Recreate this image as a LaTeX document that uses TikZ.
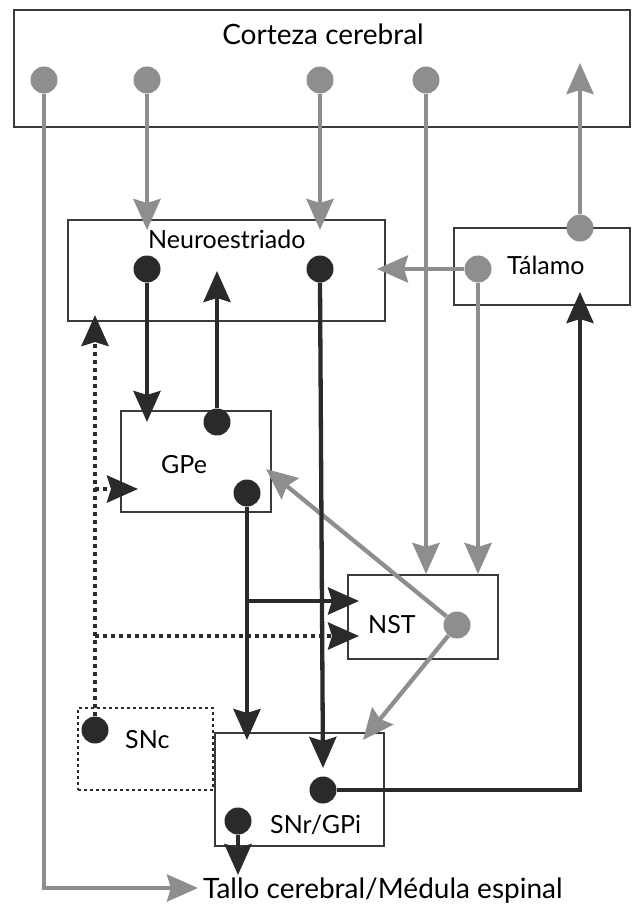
\documentclass[tikz,border=0pt]{standalone}
\usepackage{fontspec}
\setmainfont{Lato}
\usetikzlibrary{arrows.meta}
\definecolor{ash}{HTML}{8E8E8E}
\definecolor{ink}{HTML}{2A2A2A}
\definecolor{frame}{HTML}{3A3A3A}
\tikzset{fig/.style={x=1pt,y=-1pt,line join=miter,>={Stealth[length=31pt,width=27pt,inset=4pt]},font=\fontsize{25}{29}\selectfont},
  area/.style={draw=frame,line width=2pt,inner sep=0pt},
  big/.style={font=\fontsize{28}{32}\selectfont},
  gdot/.style={circle,fill=ash,minimum size=27pt,inner sep=0pt},
  kdot/.style={circle,fill=ink,minimum size=27pt,inner sep=0pt},
  gpath/.style={ash,line width=4.3pt,->},
  kpath/.style={ink,line width=4.3pt,->},
  dpath/.style={ink,line width=4.3pt,dash pattern=on 4pt off 4pt,->}}

\begin{document}
\begin{tikzpicture}[fig]
  \useasboundingbox(0,0)rectangle(632,907);
  % regions
  \node[area,minimum width=616pt,minimum height=117pt](cortex)at(322,68.5){};
  \node[area,minimum width=317pt,minimum height=101pt](striatum)at(226.5,270.5){};
  \node[area,minimum width=176pt,minimum height=77pt](thal)at(542,266.5){};
  \node[area,minimum width=150pt,minimum height=101pt](gpe)at(196,461.5){};
  \node[area,minimum width=150pt,minimum height=84pt](nst)at(422.5,617){};
  \node[draw=ink,line width=2.8pt,dash pattern=on 3pt off 3pt,minimum width=135pt,minimum height=82pt](snc)at(145.5,749){};
  \node[area,minimum width=169pt,minimum height=113pt](snr)at(299.5,789.5){};
  % labels
  \node[big,anchor=base](lcortex)at(323,45){Corteza cerebral};
  \node[anchor=base west,inner sep=0pt](lstriatum)at(148,248){Neuroestriado};
  \node[anchor=base west,inner sep=0pt](lthal)at(507,274){Tálamo};
  \node[anchor=base west,inner sep=0pt](lgpe)at(161,473){GPe};
  \node[anchor=base west,inner sep=0pt](lnst)at(368,633){NST};
  \node[anchor=base west,inner sep=0pt](lsnc)at(125,748){SNc};
  \node[anchor=base west,inner sep=0pt](lsnr)at(270,833){SNr/GPi};
  \node[big,anchor=base west,inner sep=0pt](stem)at(203,898){Tallo cerebral/Médula espinal};
  % neurons
  \node[gdot](c1)at(44,80){};\node[gdot](c2)at(147,80){};\node[gdot](c3)at(320,80){};\node[gdot](c4)at(426,80){};
  \node[kdot](n1)at(147,269){};\node[kdot](n2)at(320,269){};
  \node[gdot](t1)at(478,269){};\node[gdot](t2)at(580,228){};
  \node[kdot](g1)at(217,422){};\node[kdot](g2)at(247,493){};
  \node[gdot](s1)at(457,625){};
  \node[kdot](d1)at(95,730){};
  \node[kdot](r1)at(323,790){};\node[kdot](r2)at(238,821){};
  % free ends
  \coordinate(cortexin)at(580,63);\coordinate(stemin)at(198,888);
  \coordinate(striatumin)at(217,271);\coordinate(gbranch)at(247,601);
  \coordinate(nstin1)at(359,601);\coordinate(nstin2)at(359,636);
  \coordinate(snrin1)at(247,740);\coordinate(snrin2)at(323,768);\coordinate(snrin3)at(363,740);
  \coordinate(thalin)at(580,292);\coordinate(stemout)at(238,875);
  \coordinate(dopa1)at(95,489);\coordinate(dopa2)at(95,636);
  % cortical and thalamic paths
  \draw[gpath](c1.south)|-(stemin);
  \draw[gpath](c2.south)--(c2|-230,230);
  \draw[gpath](c3.south)--(c3|-230,230);
  \draw[gpath](c4.south)--(c4|-nst.north);
  \draw[gpath](t2.north)--(cortexin);
  \draw[gpath](t1.west)--(377,269);
  \draw[gpath](t1.south)--(t1|-nst.north);
  \draw[gpath](s1)--(266,469);
  \draw[gpath](s1)--(snrin3);
  % basal ganglia paths
  \draw[kpath](n1.south)--(n1|-422,422);
  \draw[kpath](g1.north)--(striatumin);
  \draw[kpath](g2.south)--(snrin1);
  \draw[kpath](gbranch)--(nstin1);
  \draw[kpath](n2.south)--(snrin2);
  \draw[kpath](r1.east)-|(thalin);
  \draw[kpath](r2.south)--(stemout);
  % dopamine
  \draw[dpath](d1.north)--(95,315);
  \draw[dpath](dopa1)--(138,489);
  \draw[dpath](dopa2)--(nstin2);
\end{tikzpicture}
\end{document}
